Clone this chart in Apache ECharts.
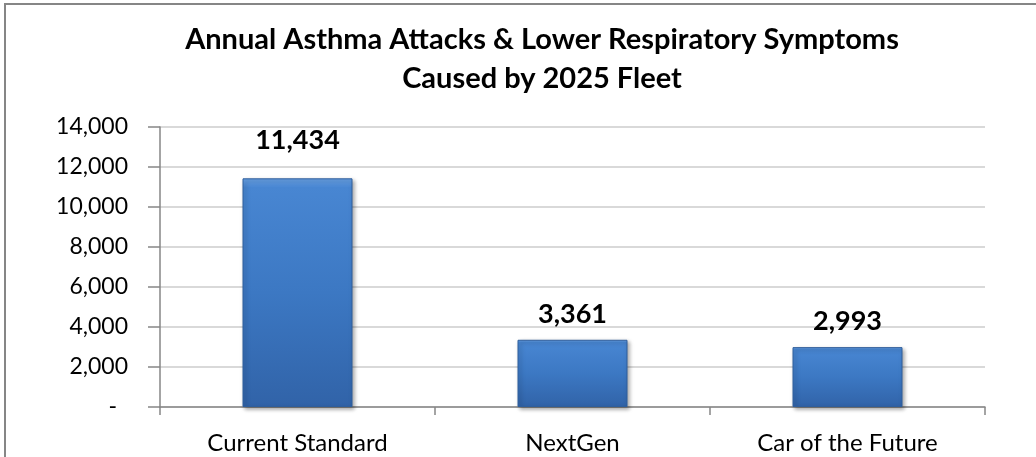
<!DOCTYPE html>
<html>
<head>
<meta charset="utf-8">
<title>Annual Asthma Attacks</title>
<script src="https://cdn.jsdelivr.net/npm/echarts@6/dist/echarts.min.js"></script>
<style>
  html, body { margin: 0; padding: 0; background: #fff; }
  #chart { width: 1036px; height: 457px; }
</style>
</head>
<body>
<div id="chart"></div>
<script>
// chart data
const titleLines = ['Annual Asthma Attacks & Lower Respiratory Symptoms', 'Caused by 2025 Fleet'];
const categories = ['Current Standard', 'NextGen', 'Car of the Future'];
const attacks = [11434, 3361, 2993];
const yTicks = { min: 0, max: 14000, interval: 2000 };

const FONT = 'Lato, "Noto Sans", sans-serif';
const fmt = v => v.toLocaleString('en-US');

const chart = echarts.init(document.getElementById('chart'));

// bar fill: bevel-ish vertical gradient like the Excel original
const barFill = new echarts.graphic.LinearGradient(0, 0, 0, 1, [
    { offset: 0, color: '#6aa3e6' },
    { offset: 0.04, color: '#4886d2' },
    { offset: 0.5, color: '#3c78c3' },
    { offset: 1, color: '#3163a8' }
]);

chart.setOption({
    animation: false,
    title: {
        text: titleLines.join('\n'),
        left: 537,
        top: 15,
        textAlign: 'center',
        textStyle: {
            fontFamily: FONT,
            fontSize: 29,
            fontWeight: 'bold',
            color: '#000',
            lineHeight: 39
        }
    },
    graphic: [{
        type: 'rect',
        shape: { x: 5, y: 4, width: 1100, height: 520 },
        style: { fill: 'none', stroke: '#868686', lineWidth: 2 },
        silent: true
    }],
    grid: { left: 160, right: 51, top: 127, bottom: 50 },
    xAxis: {
        type: 'category',
        data: categories,
        axisLine: { lineStyle: { color: '#868686', width: 1.5 } },
        axisTick: { show: true, length: 8, lineStyle: { color: '#868686', width: 1.5 } },
        axisLabel: {
            margin: 24,
            color: '#000',
            fontFamily: FONT,
            fontSize: 24
        }
    },
    yAxis: {
        type: 'value',
        min: yTicks.min,
        max: yTicks.max,
        interval: yTicks.interval,
        axisLine: { show: true, lineStyle: { color: '#868686', width: 1.5 } },
        axisTick: { show: true, length: 12, lineStyle: { color: '#868686', width: 1.5 } },
        splitLine: { lineStyle: { color: '#d9d9d9', width: 2 } },
        axisLabel: {
            margin: 32,
            color: '#000',
            fontFamily: FONT,
            fontSize: 23,
            formatter: v => (v === 0 ? '{dash|-}' : fmt(v)),
            rich: {
                dash: { fontFamily: FONT, fontSize: 23, color: '#000', padding: [0, 11, 0, 0] }
            }
        }
    },
    series: [{
        type: 'bar',
        data: attacks.map((v, i) => ({
            value: v,
            // first label was nudged up in the original
            label: i === 0 ? { distance: 25 } : undefined
        })),
        barWidth: '40%',
        itemStyle: {
            color: barFill,
            borderColor: '#2f5e9c',
            borderWidth: 1,
            shadowColor: 'rgba(0,0,0,0.35)',
            shadowBlur: 4,
            shadowOffsetX: 2,
            shadowOffsetY: 2
        },
        label: {
            show: true,
            position: 'top',
            distance: 12,
            color: '#000',
            fontFamily: FONT,
            fontSize: 27,
            fontWeight: 'bold',
            formatter: p => fmt(p.value)
        }
    }]
});
</script>
</body>
</html>
